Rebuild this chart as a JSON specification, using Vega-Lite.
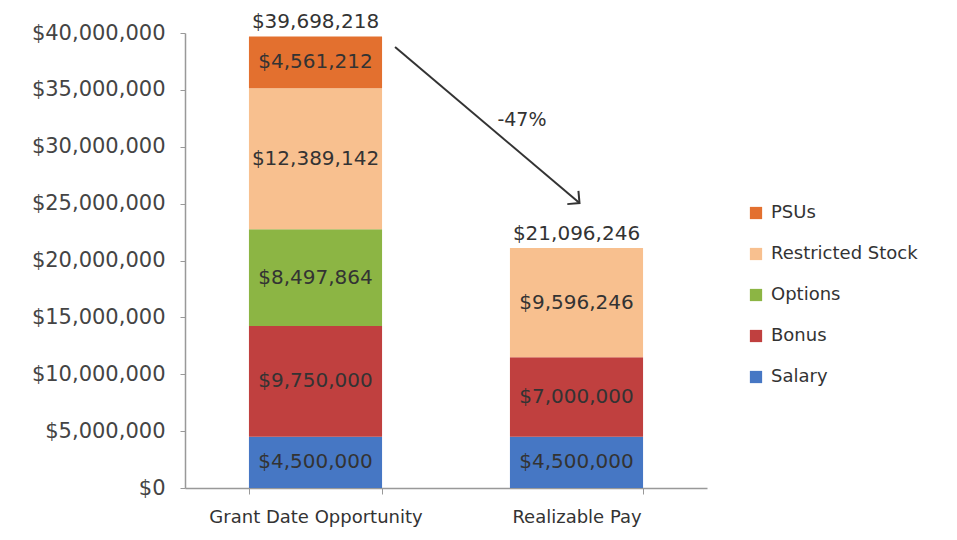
{
  "$schema": "https://vega.github.io/schema/vega-lite/v6.json",
  "width": 522,
  "height": 455,
  "autosize": "none",
  "padding": {"left": 185, "top": 33, "right": 250, "bottom": 52},
  "background": "white",
  "config": {
    "view": {"stroke": null},
    "font": "DejaVu Sans",
    "axisX": {"title": null, "labelAngle": 0, "labelFontSize": 18, "labelLimit": 400, "labelColor": "#333", "tickBand": "extent", "tickSize": 6, "labelPadding": 14, "domainColor": "#999", "tickColor": "#999", "domainWidth": 1.5},
    "axisY": {"title": null, "labelFontSize": 21, "labelColor": "#444", "tickSize": 5, "labelPadding": 15, "domainColor": "#999", "tickColor": "#999", "grid": false, "domainWidth": 1.5}
  },
  "datasets": {
    "comp": [
      {"cat": "Grant Date Opportunity", "comp": "Salary", "ord": 1, "value": 4500000},
      {"cat": "Grant Date Opportunity", "comp": "Bonus", "ord": 2, "value": 9750000},
      {"cat": "Grant Date Opportunity", "comp": "Options", "ord": 3, "value": 8497864},
      {"cat": "Grant Date Opportunity", "comp": "Restricted Stock", "ord": 4, "value": 12389142},
      {"cat": "Grant Date Opportunity", "comp": "PSUs", "ord": 5, "value": 4561212},
      {"cat": "Realizable Pay", "comp": "Salary", "ord": 1, "value": 4500000},
      {"cat": "Realizable Pay", "comp": "Bonus", "ord": 2, "value": 7000000},
      {"cat": "Realizable Pay", "comp": "Restricted Stock", "ord": 4, "value": 9596246}
    ],
    "arrow": [
      {"from": "Grant Date Opportunity", "to": "Realizable Pay", "ya": 38770000, "yb": 25050000, "ylbl": 32350000, "lbl": "-47%"}
    ]
  },
  "layer": [
    {
      "data": {"name": "comp"},
      "mark": {"type": "bar"},
      "encoding": {
        "x": {
          "field": "cat", "type": "nominal",
          "sort": ["Grant Date Opportunity", "Realizable Pay"],
          "scale": {"paddingInner": 0.49, "paddingOuter": 0.245},
          "axis": {"title": null, "labelLimit": 400, "labelFontSize": 18}
        },
        "y": {
          "field": "value", "type": "quantitative", "stack": "zero",
          "scale": {"domain": [0, 40000000], "nice": false},
          "axis": {"title": null, "values": [0, 5000000, 10000000, 15000000, 20000000, 25000000, 30000000, 35000000, 40000000], "format": "$,.0f"}
        },
        "color": {
          "field": "comp", "type": "nominal",
          "scale": {"domain": ["PSUs", "Restricted Stock", "Options", "Bonus", "Salary"], "range": ["#e3702f", "#f8c08f", "#8cb544", "#c0403f", "#4677c4"]},
          "legend": {"title": null, "orient": "none", "legendX": 562, "legendY": 171, "symbolType": "square", "symbolSize": 150, "labelFontSize": 18, "labelColor": "#333", "rowPadding": 23, "labelOffset": 6, "symbolStrokeWidth": 0}
        },
        "order": {"field": "ord", "type": "quantitative"}
      }
    },
    {
      "data": {"name": "comp"},
      "transform": [
        {"stack": "value", "groupby": ["cat"], "sort": [{"field": "ord", "order": "ascending"}], "as": ["v0", "v1"]},
        {"calculate": "(datum.v0 + datum.v1) / 2", "as": "mid"}
      ],
      "mark": {"type": "text", "fontSize": 20, "color": "#333"},
      "encoding": {
        "x": {"field": "cat", "type": "nominal"},
        "y": {"field": "mid", "type": "quantitative"},
        "text": {"field": "value", "type": "quantitative", "format": "$,.0f"}
      }
    },
    {
      "data": {"name": "comp"},
      "transform": [
        {"aggregate": [{"op": "sum", "field": "value", "as": "total"}], "groupby": ["cat"]}
      ],
      "mark": {"type": "text", "fontSize": 20, "color": "#333", "baseline": "bottom", "dy": -4},
      "encoding": {
        "x": {"field": "cat", "type": "nominal"},
        "y": {"field": "total", "type": "quantitative"},
        "text": {"field": "total", "type": "quantitative", "format": "$,.0f"}
      }
    },
    {
      "data": {"name": "arrow"},
      "mark": {"type": "rule", "color": "#333", "strokeWidth": 2, "xOffset": 13, "x2Offset": 3},
      "encoding": {
        "x": {"field": "from", "type": "nominal", "bandPosition": 1},
        "x2": {"field": "to", "bandPosition": 0.5},
        "y": {"field": "ya", "type": "quantitative"},
        "y2": {"field": "yb"}
      }
    },
    {
      "data": {"name": "arrow"},
      "mark": {"type": "point", "shape": "M -1 -1 L 0 0 L -1 1", "angle": 40, "filled": false, "stroke": "#333", "strokeWidth": 2, "size": 300, "opacity": 1, "xOffset": 3},
      "encoding": {
        "x": {"field": "to", "type": "nominal", "bandPosition": 0.5},
        "y": {"field": "yb", "type": "quantitative"}
      }
    },
    {
      "data": {"name": "arrow"},
      "mark": {"type": "text", "fontSize": 19, "color": "#333", "xOffset": 12},
      "encoding": {
        "x": {"field": "to", "type": "nominal", "bandPosition": 0},
        "y": {"field": "ylbl", "type": "quantitative"},
        "text": {"field": "lbl"}
      }
    }
  ]
}
